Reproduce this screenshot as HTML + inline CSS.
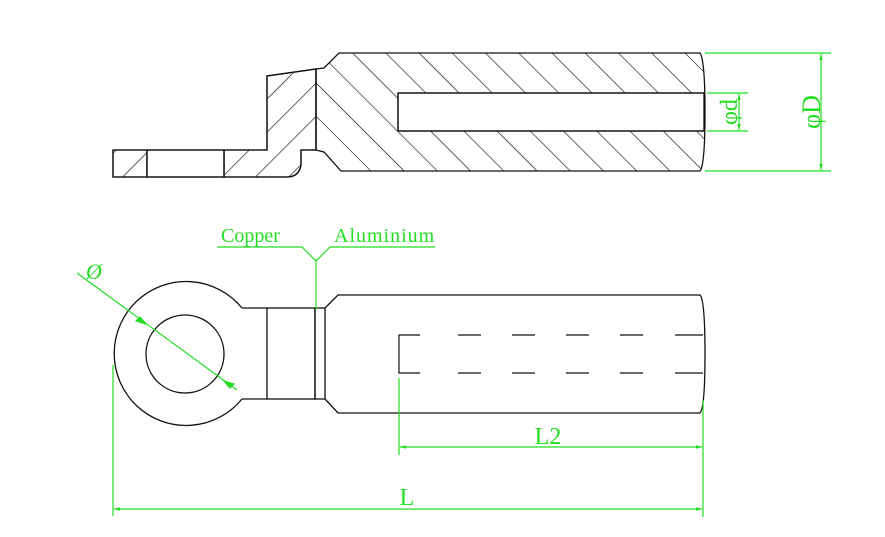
<!DOCTYPE html>
<html><head><style>html,body{margin:0;padding:0;background:#fff;}svg{display:block}</style></head>
<body>
<svg width="885" height="537" viewBox="0 0 885 537" xmlns="http://www.w3.org/2000/svg">
<defs>
<pattern id="hr" width="23.5" height="23.5" patternUnits="userSpaceOnUse" patternTransform="rotate(45)"><line x1="0" y1="0" x2="0" y2="23.5" stroke="#000" stroke-width="1.2"/></pattern>
<pattern id="hl" width="23.5" height="23.5" patternUnits="userSpaceOnUse" patternTransform="rotate(-45)"><line x1="0" y1="0" x2="0" y2="23.5" stroke="#000" stroke-width="1.2"/></pattern>
<marker id="a" viewBox="0 0 10 10" refX="10" refY="5" markerWidth="10" markerHeight="6" orient="auto-start-reverse" markerUnits="userSpaceOnUse"><path d="M0,2 L10,5 L0,8 z" fill="#22dd22"/></marker>
</defs>
<g stroke="#111" stroke-width="1.3" fill="none">
<path d="M113,150 L147,150 L147,177 L113,177 Z" fill="url(#hr)"/>
<path d="M224,150 L267,150 L267,76 L316,69 L316,150 L301,150 L301,165 Q299,177 287,177 L224,177 Z" fill="url(#hr)"/>
<rect x="147" y="150" width="77" height="27" fill="#fff"/>
<path d="M113,150 L267,150 L267,76 L316,69 L316,150 L301,150 L301,165 Q299,177 287,177 L113,177 Z"/>
<line x1="147" y1="150" x2="147" y2="177"/><line x1="224" y1="150" x2="224" y2="177"/>
<path d="M316,69 L324,68 L339,53 L700,53 Q705,60 705,112 Q705,165 700,171 L341,171 L324,152 L316,150 Z" fill="url(#hl)"/>
<rect x="398" y="93" width="306" height="38" fill="#fff"/>
<path d="M398,93 L704,93 M398,93 L398,131 L704,131"/>
</g>
<g stroke="#22dd22" stroke-width="1.2" fill="none">
<line x1="705" y1="53" x2="831" y2="53"/><line x1="705" y1="171" x2="831" y2="171"/>
<line x1="821" y1="54" x2="821" y2="170" marker-start="url(#a)" marker-end="url(#a)"/>
<line x1="707" y1="93" x2="748" y2="93"/><line x1="707" y1="131" x2="748" y2="131"/>
<line x1="739" y1="94" x2="739" y2="130" marker-start="url(#a)" marker-end="url(#a)"/>
</g>
<g fill="#22dd22" font-family="Liberation Serif, serif">
<text x="0" y="0" font-size="24" transform="translate(737,112) rotate(-90)" text-anchor="middle">φd</text>
<text x="0" y="0" font-size="26" transform="translate(820,112) rotate(-90)" text-anchor="middle">φD</text>
</g>
<g stroke="#111" stroke-width="1.3" fill="none">
<path d="M242,308 A72,72 0 1 0 242,399"/>
<circle cx="185" cy="354" r="39"/>
<path d="M242,308 L267,308 M242,399 L267,399"/>
<rect x="267" y="308" width="48" height="91"/>
<rect x="315" y="308" width="10" height="91"/>
<path d="M325,308 L338,295 L700,295 Q705,300 705,354 Q705,408 700,413 L338,413 L325,399"/>
<path d="M420,335 L399,335 L399,373 L420,373" stroke-width="1.2"/>
<path d="M458,335 H481 M512,335 H535 M566,335 H589 M620,335 H643 M675,335 H703 M458,373 H481 M512,373 H535 M566,373 H589 M620,373 H643 M675,373 H703" stroke-width="1.2"/>
</g>
<g stroke="#22dd22" stroke-width="1.2" fill="none">
<path d="M217,247 L302,247 L316,261 L330,247 L435,247 M316,261 L316,310"/>
<line x1="77" y1="273" x2="237" y2="390"/>
<path d="M146,324 l-10,-3 l4,-4z M224,381 l10,3 l-4,4z" fill="#22dd22"/>
<line x1="113" y1="365" x2="113" y2="516"/>
<line x1="399" y1="378" x2="399" y2="455"/>
<line x1="703" y1="400" x2="703" y2="517"/>
<line x1="400" y1="447" x2="702" y2="447" marker-start="url(#a)" marker-end="url(#a)"/>
<line x1="114" y1="509" x2="702" y2="509" marker-start="url(#a)" marker-end="url(#a)"/>
</g>
<g fill="#22dd22" font-family="Liberation Serif, serif">
<text x="221" y="242" font-size="20">Copper</text>
<text x="334" y="242" font-size="20" letter-spacing="1">Aluminium</text>
<text x="86" y="279" font-size="22" font-style="italic">Ø</text>
<text x="548" y="444" font-size="24" text-anchor="middle">L2</text>
<text x="407" y="505" font-size="24" text-anchor="middle">L</text>
</g>
</svg>
</body></html>
